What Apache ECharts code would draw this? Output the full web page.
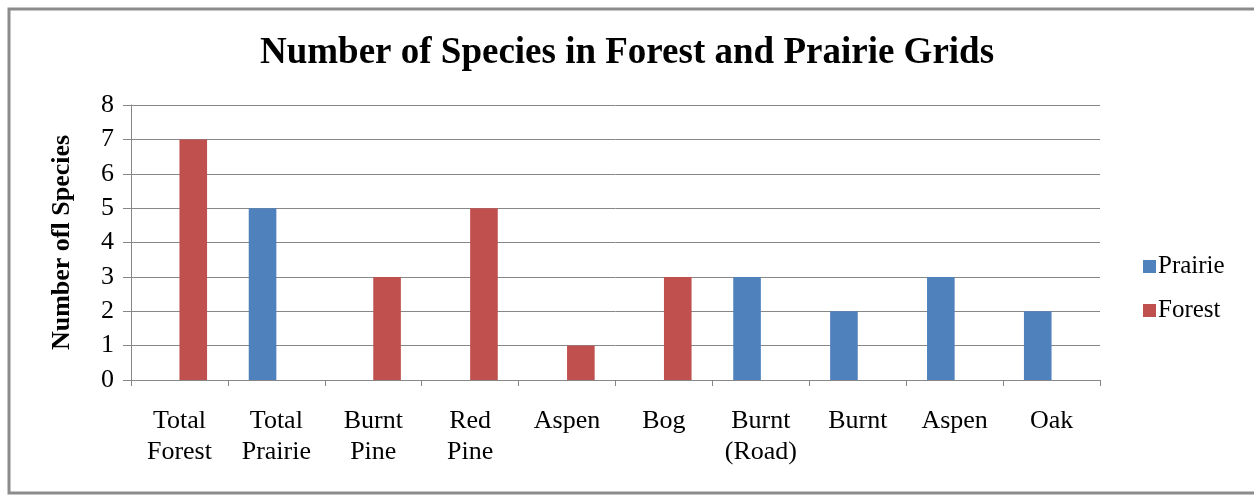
<!DOCTYPE html>
<html>
<head>
  <meta charset="utf-8">
  <title>Number of Species in Forest and Prairie Grids</title>
  <script src="https://cdn.jsdelivr.net/npm/echarts@6/dist/echarts.min.js"></script>
  <style>
    html, body { margin: 0; padding: 0; background: #fff; }
    #chart { width: 1254px; height: 495px; }
  </style>
</head>
<body>
  <div id="chart"></div>
  <script>
    // data
    var categories = ['Total\nForest', 'Total\nPrairie', 'Burnt\nPine', 'Red\nPine', 'Aspen', 'Bog', 'Burnt\n(Road)', 'Burnt', 'Aspen', 'Oak'];
    var prairie = [null, 5, null, null, null, null, 3, 2, 3, 2];
    var forest = [7, null, 3, 5, 1, 3, null, null, null, null];
    var yTicks = [0, 1, 2, 3, 4, 5, 6, 7, 8];

    var serif = '"Liberation Serif", "DejaVu Serif", serif';
    var gray = '#878787';

    var chart = echarts.init(document.getElementById('chart'));
    chart.setOption({
      animation: false,
      title: {
        text: 'Number of Species in Forest and Prairie Grids',
        left: 'center',
        top: 30,
        textStyle: { fontFamily: serif, fontSize: 37, fontWeight: 'bold', color: '#000' }
      },
      legend: {
        orient: 'vertical',
        left: 1138,
        top: 249,
        itemWidth: 13,
        itemHeight: 13,
        itemGap: 19,
        icon: 'rect',
        textStyle: { fontFamily: serif, fontSize: 25, color: '#000', padding: [0, 0, 0, -3] },
        data: ['Prairie', 'Forest']
      },
      grid: { left: 131, right: 154, top: 105, bottom: 115 },
      xAxis: {
        type: 'category',
        data: categories,
        axisLine: { lineStyle: { color: gray, width: 1 } },
        axisTick: { show: true, length: 6, lineStyle: { color: gray } },
        axisLabel: { fontFamily: serif, fontSize: 26, color: '#000', margin: 26, lineHeight: 31, interval: 0 }
      },
      yAxis: {
        type: 'value',
        min: yTicks[0],
        max: yTicks[yTicks.length - 1],
        interval: 1,
        name: 'Number ofl Species',
        nameLocation: 'middle',
        nameRotate: 90,
        nameGap: 56,
        nameTextStyle: { fontFamily: serif, fontSize: 26, fontWeight: 'bold', color: '#000' },
        axisLine: { show: true, lineStyle: { color: gray, width: 1 } },
        axisTick: { show: true, length: 8, lineStyle: { color: gray } },
        axisLabel: { fontFamily: serif, fontSize: 26, color: '#000', margin: 17 },
        splitLine: { show: true, lineStyle: { color: gray, width: 1 } }
      },
      series: [
        {
          name: 'Prairie',
          type: 'bar',
          data: prairie,
          barGap: '0%',
          barCategoryGap: '43%',
          itemStyle: { color: '#4F81BD' }
        },
        {
          name: 'Forest',
          type: 'bar',
          data: forest,
          barGap: '0%',
          barCategoryGap: '43%',
          itemStyle: { color: '#C0504D' }
        }
      ],
      graphic: [
        {
          type: 'rect',
          shape: { x: 9, y: 9, width: 1260, height: 484 },
          style: { fill: 'none', stroke: '#8c8c8c', lineWidth: 3 },
          silent: true
        }
      ]
    });
  </script>
</body>
</html>
